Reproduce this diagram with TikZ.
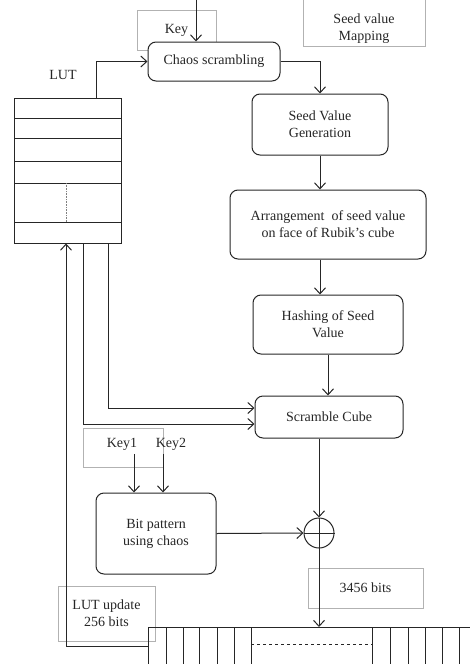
\documentclass[tikz,border=0pt]{standalone}
\usepackage{fontspec}
\setmainfont{Liberation Serif}
\usetikzlibrary{arrows.meta}

\begin{document}
\begin{tikzpicture}[x=1pt, y=-1pt, line width=1pt, color=black!85,
  font=\fontsize{14pt}{17pt}\selectfont,
  proc/.style={draw, rounded corners=8pt, align=center, inner sep=0pt},
  note/.style={draw=black!30, line width=0.8pt, align=center, inner sep=0pt},
  arr/.style={-{Straight Barb[length=6pt,width=11pt]}}]
  \useasboundingbox (0,0) rectangle (469,664);

  \node[note, minimum width=79pt, minimum height=40pt] (key) at (176.5,30) {Key};
  \node[proc, fill=white, minimum width=132pt, minimum height=39pt] (chaos) at (214,61.5) {Chaos scrambling};
  \draw[note] (303,-2) rectangle (425,46);
  \node[align=center] (mapping) at (364,29) {Seed value\\Mapping};
  \node (lutlabel) at (63,75) {LUT};

  \node[proc, minimum width=136pt, minimum height=61pt] (seedgen) at (320,124.5) {Seed Value\\Generation};
  \node[proc, minimum width=196pt, minimum height=69pt] (arrange) at (328,224.5) {Arrangement~ of seed value\\on face of Rubik’s cube};
  \node[proc, minimum width=150pt, minimum height=59pt] (hash) at (328,324.5) {Hashing of Seed\\Value};
  \node[proc, minimum width=148pt, minimum height=42pt] (scramble) at (329,417) {Scramble Cube};
  \node[proc, minimum width=120pt, minimum height=81pt] (bitpat) at (156,533.5) {Bit pattern\\using chaos};
  \node[draw, circle, minimum size=30pt, inner sep=0pt] (xor) at (319,533) {};
  \draw (xor.north) -- (xor.south) (xor.west) -- (xor.east);

  \node[draw, minimum width=107pt, minimum height=145pt, inner sep=0pt] (lut) at (67.5,170.5) {};
  \foreach \y in {118,138,161,183,222}
    \draw (14,\y) -- (121,\y);
  \draw[densely dotted, line width=0.6pt, black!50] (66,183) -- (66,222);

  \draw[note] (83,428) rectangle (163,467);
  \node (key1) at (122,444) {Key1};
  \node (key2) at (171,444) {Key2};
  \node[note, minimum width=115pt, minimum height=40pt] (bits) at (365.5,588) {3456 bits};
  \node[note, minimum width=97pt, minimum height=55pt] (lutupd) at (106.5,613.5) {LUT update\\256 bits};

  \draw (148,680) -- (148,627) -- (480,627);
  \foreach \x in {166,183,199,217,234,251,372,390,408,425,442,459}
    \draw (\x,627) -- (\x,680);
  \draw[dashed, line width=0.8pt] (251,644) -- (372,644);
  \coordinate (regin) at (319,627);
  \coordinate (regout) at (148,646);
  \coordinate (keyin) at (196,0);

  \draw[arr] (keyin) -- (keyin |- chaos.north);
  \draw[arr] ([xshift=28.5pt]lut.north) |- (chaos.west);
  \draw[arr] (chaos.east) -| (seedgen.north);
  \draw[arr] (seedgen.south) -- (seedgen.south |- arrange.north);
  \draw[arr] (seedgen.south |- arrange.south) -- (seedgen.south |- hash.north);
  \draw[arr] (hash.south) -- (hash.south |- scramble.north);
  \draw[arr] ([xshift=40.5pt]lut.south) |- ([yshift=9pt]scramble.west);
  \draw[arr] ([xshift=15.5pt]lut.south) |- ([yshift=-7pt]scramble.west);
  \draw[arr] ([xshift=12pt]key1.south) -- ([xshift=12pt]key1.south |- bitpat.north);
  \draw[arr] ([xshift=-8pt]key2.south) -- ([xshift=-8pt]key2.south |- bitpat.north);
  \draw[arr] (xor.north |- scramble.south) -- (xor.north);
  \draw[arr] (bitpat.east) -- (xor.west);
  \draw[arr] (xor.south) -- (regin);
  \draw[arr] (regout) -| ([xshift=-1.5pt]lut.south);
\end{tikzpicture}
\end{document}
